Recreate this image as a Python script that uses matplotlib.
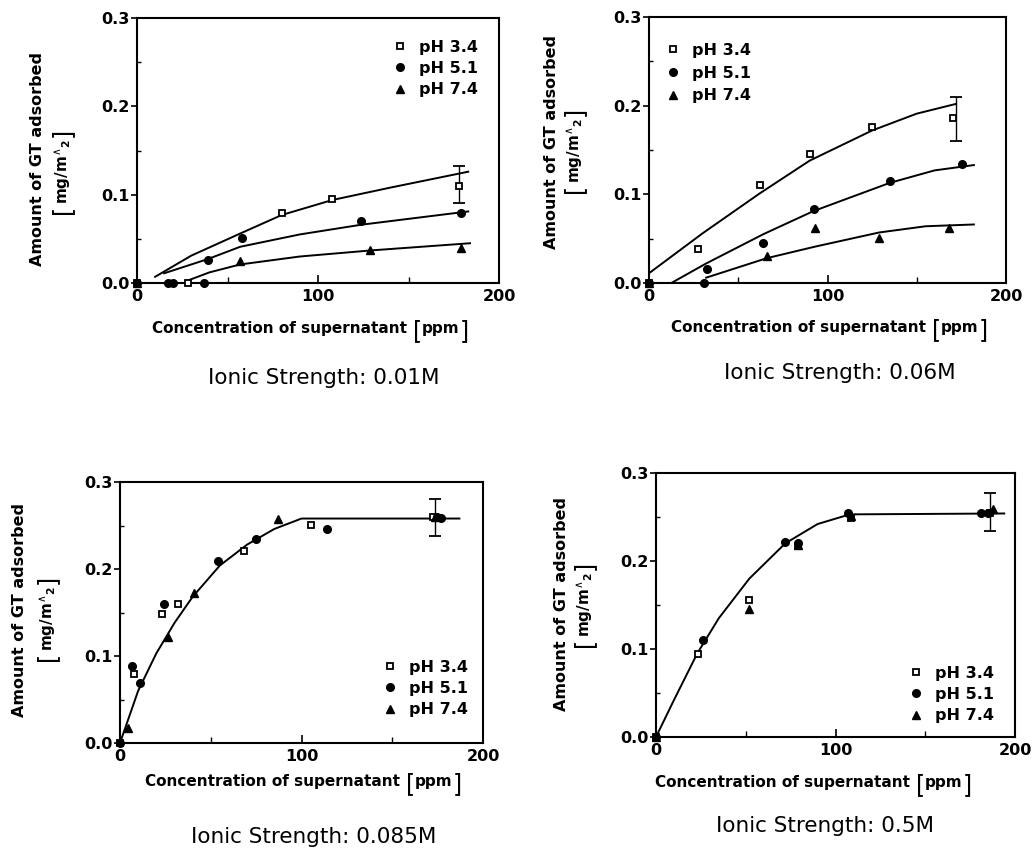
import matplotlib.pyplot as plt
from matplotlib.ticker import FixedLocator, FormatStrFormatter

plt.rcParams["font.family"] = "DejaVu Sans"
plt.rcParams["mathtext.fontset"] = "dejavusans"

W, H = 1032, 851

# --- Ionic strength 0.01M ---
a_x34 = [0, 28, 80, 108, 178]
a_y34 = [0, 0, 0.079, 0.095, 0.110]
a_x51 = [0, 17, 20, 37, 39, 58, 124, 179]
a_y51 = [0, 0, 0, 0, 0.026, 0.051, 0.070, 0.079]
a_x74 = [0, 57, 129, 179]
a_y74 = [0, 0.025, 0.037, 0.040]
a_err = [178, 0.110, 0.019, 0.023]
a_fit34_x = [10, 30, 57, 80, 108, 140, 183]
a_fit34_y = [0.007, 0.031, 0.056, 0.077, 0.094, 0.108, 0.126]
a_fit51_x = [15, 39, 57, 90, 124, 183]
a_fit51_y = [0.011, 0.027, 0.041, 0.055, 0.066, 0.081]
a_fit74_x = [27, 40, 57, 90, 130, 184]
a_fit74_y = [0.002, 0.012, 0.021, 0.030, 0.037, 0.045]

# --- Ionic strength 0.06M ---
b_x34 = [0, 27.7, 62.4, 90, 125, 170.4]
b_y34 = [0, 0.038, 0.110, 0.146, 0.176, 0.186]
b_x51 = [0, 31, 32.6, 64, 92.5, 135, 175.4]
b_y51 = [0, 0, 0.016, 0.045, 0.083, 0.115, 0.134]
b_x74 = [0, 66, 93, 129, 168]
b_y74 = [0, 0.030, 0.062, 0.051, 0.062]
b_err = [172, 0.186, 0.026, 0.024]
b_fit34_x = [0, 30, 62, 90, 125, 150, 172]
b_fit34_y = [0.011, 0.056, 0.101, 0.138, 0.172, 0.191, 0.202]
b_fit51_x = [12.5, 32, 64, 92, 135, 160, 182]
b_fit51_y = [0, 0.022, 0.055, 0.081, 0.113, 0.127, 0.133]
b_fit74_x = [32, 66, 93, 129, 155, 182]
b_fit74_y = [0.006, 0.028, 0.041, 0.057, 0.064, 0.066]

# --- Ionic strength 0.085M ---
c_x34 = [0, 7.5, 23.2, 31.9, 68.3, 105, 172.7]
c_y34 = [0, 0.079, 0.148, 0.160, 0.221, 0.251, 0.260]
c_x51 = [0, 6.4, 11, 24, 54, 75, 114, 174.6, 177]
c_y51 = [0, 0.088, 0.069, 0.160, 0.209, 0.235, 0.246, 0.260, 0.259]
c_x74 = [4.2, 26.7, 41, 87, 173.7]
c_y74 = [0.017, 0.122, 0.172, 0.257, 0.260]
c_err = [173.5, 0.260, 0.022, 0.020]
c_fit_x = [0, 5, 10, 20, 30, 40, 55, 70, 85, 100, 187]
c_fit_y = [0, 0.030, 0.060, 0.103, 0.138, 0.168, 0.204, 0.228, 0.246, 0.258, 0.258]

# --- Ionic strength 0.5M ---
d_x34 = [0, 23.2, 52, 79, 108.7, 186]
d_y34 = [0, 0.094, 0.156, 0.217, 0.249, 0.255]
d_x51 = [0, 26, 71.6, 79, 107, 181, 185]
d_y51 = [0, 0.110, 0.222, 0.221, 0.255, 0.255, 0.255]
d_x74 = [0, 52, 79, 108.7, 187.7]
d_y74 = [0, 0.146, 0.218, 0.251, 0.259]
d_err = [186, 0.255, 0.021, 0.022]
d_fit_x = [0, 10, 23, 35, 52, 72, 90, 108, 194]
d_fit_y = [0, 0.042, 0.095, 0.135, 0.180, 0.220, 0.242, 0.253, 0.254]

labels = ["pH 3.4", "pH 5.1", "pH 7.4"]
ylabel_top = "Amount of GT adsorbed"
ylabel_unit = r"$\mathbf{mg/m}^{\wedge}{}_{\mathbf{2}}$"
xlabel_text = "Concentration of supernatant"
xlabel_unit = "ppm"


def px_rect(left, top, right, bottom):
    return [left / W, 1 - bottom / H, (right - left) / W, (bottom - top) / H]


def px(x, y):
    return x / W, 1 - y / H


def y_label(fig, pos1, pos2):
    fig.text(*px(*pos1), ylabel_top, rotation=90, ha="center", va="center",
             fontsize=11.5, fontweight="bold")
    mid = fig.text(*px(*pos2), ylabel_unit, rotation=90, ha="center", va="center",
                   fontsize=11)
    fig.add_artist(plt.Annotation("[", xy=(0.45, 0), xycoords=mid, ha="center", va="top",
                                  rotation=90, fontsize=17, xytext=(0, -1),
                                  textcoords="offset points"))
    fig.add_artist(plt.Annotation("]", xy=(0.45, 1), xycoords=mid, ha="center", va="bottom",
                                  rotation=90, fontsize=17, xytext=(0, 1),
                                  textcoords="offset points"))


def x_label(fig, x0, baseline):
    fx, fy = px(x0, baseline)
    main = fig.text(fx, fy, xlabel_text, ha="left", va="baseline",
                    fontsize=11, fontweight="bold")
    lb = plt.Annotation("[", xy=(1, fy), xycoords=(main, "figure fraction"), ha="left",
                        va="baseline", fontsize=17, xytext=(4, -4), textcoords="offset points")
    fig.add_artist(lb)
    unit = plt.Annotation(xlabel_unit, xy=(1, fy), xycoords=(lb, "figure fraction"),
                          ha="left", va="baseline", fontsize=11, fontweight="bold",
                          xytext=(0, 0), textcoords="offset points")
    fig.add_artist(unit)
    rb = plt.Annotation("]", xy=(1, fy), xycoords=(unit, "figure fraction"), ha="left",
                        va="baseline", fontsize=17, xytext=(0, -4), textcoords="offset points")
    fig.add_artist(rb)


def draw_panel(fig, rect, series, fits, err, legend_xy, legend_gap, ylab_pos, ylab2_pos,
               xlab_pos, title_pos, title):
    ax = fig.add_axes(rect)
    (x34, y34), (x51, y51), (x74, y74) = series
    h1, = ax.plot(x34, y34, "s", ms=5, mfc="white", mec="black", mew=1.3, ls="none",
                  zorder=4, clip_on=False)
    h2, = ax.plot(x51, y51, "o", ms=5.5, color="black", ls="none", zorder=4, clip_on=False)
    h3, = ax.plot(x74, y74, "^", ms=6, color="black", ls="none", zorder=4, clip_on=False)
    for fx, fy in fits:
        ax.plot(fx, fy, color="black", lw=1.4, zorder=3)
    ex, ey, elo, ehi = err
    ax.errorbar([ex], [ey], yerr=[[elo], [ehi]], fmt="none", ecolor="black",
                elinewidth=1.0, capsize=4, capthick=1.3, zorder=2)

    ax.set_xlim(0, 200)
    ax.set_ylim(0, 0.3)
    ax.xaxis.set_major_locator(FixedLocator([0, 100, 200]))
    ax.xaxis.set_minor_locator(FixedLocator([50, 150]))
    ax.yaxis.set_major_locator(FixedLocator([0, 0.1, 0.2, 0.3]))
    ax.yaxis.set_minor_locator(FixedLocator([0.05, 0.15, 0.25]))
    ax.yaxis.set_major_formatter(FormatStrFormatter("%.1f"))
    ax.tick_params(axis="x", which="major", direction="in", length=6, width=1.2, pad=4)
    ax.tick_params(axis="x", which="minor", direction="in", length=4, width=1.0)
    ax.tick_params(axis="y", which="major", direction="out", length=4, width=1.2, pad=1)
    ax.tick_params(axis="y", which="minor", direction="in", length=3, width=1.0)
    for lab in ax.get_xticklabels() + ax.get_yticklabels():
        lab.set_fontweight("bold")
        lab.set_fontsize(11.5)
    for sp in ax.spines.values():
        sp.set_linewidth(1.5)

    ax.legend([h1, h2, h3], labels, loc="upper left", bbox_to_anchor=px(*legend_xy),
              bbox_transform=fig.transFigure, frameon=False, handletextpad=0.7,
              labelspacing=legend_gap, borderpad=0, borderaxespad=0,
              prop={"weight": "bold", "size": 11.5}, handlelength=1.0)

    y_label(fig, ylab_pos, ylab2_pos)
    x_label(fig, *xlab_pos)
    fig.text(*px(*title_pos), title, ha="center", va="baseline", fontsize=15.5)
    return ax


fig = plt.figure(figsize=(W / 100, H / 100), dpi=100)

draw_panel(fig, px_rect(137, 18, 499, 283),
           [(a_x34, a_y34), (a_x51, a_y51), (a_x74, a_y74)],
           [(a_fit34_x, a_fit34_y), (a_fit51_x, a_fit51_y), (a_fit74_x, a_fit74_y)],
           a_err, (392, 40), 0.38,
           (38, 159), (63, 171), (152, 333), (324, 384), "Ionic Strength: 0.01M")

draw_panel(fig, px_rect(649, 17, 1006, 283),
           [(b_x34, b_y34), (b_x51, b_y51), (b_x74, b_y74)],
           [(b_fit34_x, b_fit34_y), (b_fit51_x, b_fit51_y), (b_fit74_x, b_fit74_y)],
           b_err, (665, 43), 0.48,
           (551, 142), (575, 150), (671, 332), (840, 379), "Ionic Strength: 0.06M")

draw_panel(fig, px_rect(120, 482, 483, 743),
           [(c_x34, c_y34), (c_x51, c_y51), (c_x74, c_y74)],
           [(c_fit_x, c_fit_y)],
           c_err, (382, 660), 0.38,
           (20, 610), (48, 618), (145, 786), (314, 843), "Ionic Strength: 0.085M")

draw_panel(fig, px_rect(656, 473, 1015, 737),
           [(d_x34, d_y34), (d_x51, d_y51), (d_x74, d_y74)],
           [(d_fit_x, d_fit_y)],
           d_err, (908, 666), 0.38,
           (561, 604), (585, 604), (655, 787), (825, 832), "Ionic Strength: 0.5M")

fig.savefig("out.png", dpi=100)
